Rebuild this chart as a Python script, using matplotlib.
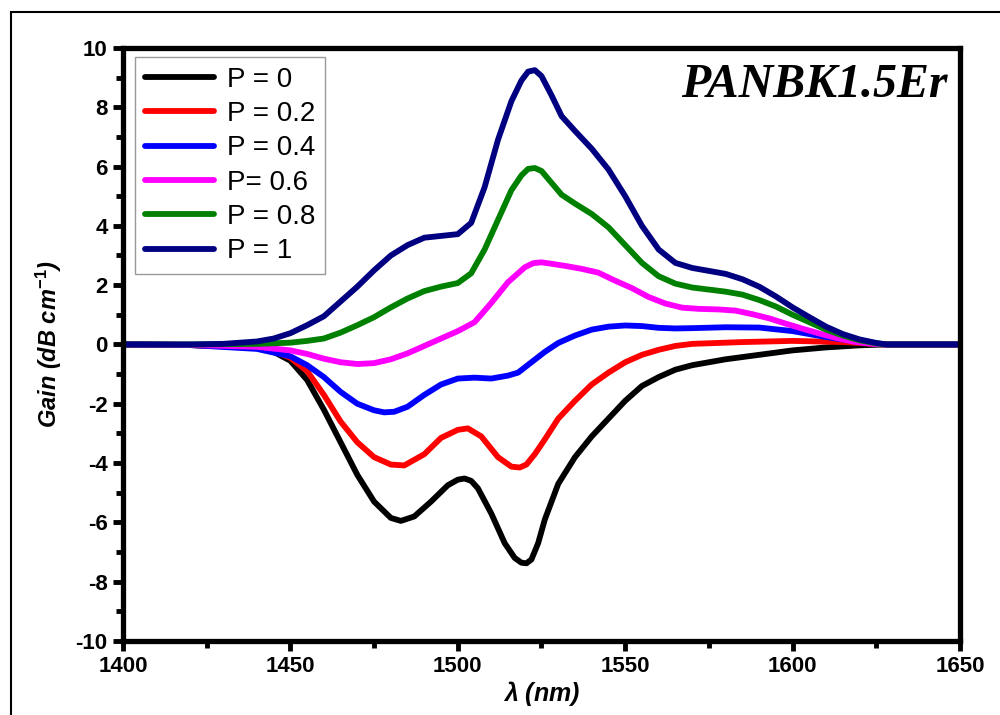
import matplotlib
matplotlib.use("Agg")
import matplotlib.pyplot as plt
from matplotlib.patches import Rectangle
from matplotlib.ticker import MultipleLocator

plt.rcParams['font.family'] = ['Liberation Sans', 'DejaVu Sans']
plt.rcParams['font.weight'] = 'bold'
plt.rcParams['axes.unicode_minus'] = False
plt.rcParams['mathtext.fontset'] = 'custom'
plt.rcParams['mathtext.it'] = 'Liberation Sans:italic:bold'
plt.rcParams['mathtext.rm'] = 'Liberation Sans:bold'

# gain spectra (wavelength in nm, gain in dB/cm)
wl_p0 = [1400, 1420, 1440, 1445, 1450, 1455, 1460, 1465, 1470, 1475, 1480, 1483, 1487, 1492, 1497,
         1500, 1502, 1504, 1506, 1510, 1514, 1517, 1519, 1520.5, 1522, 1524, 1526, 1530, 1535,
         1540, 1545, 1550, 1555, 1560, 1565, 1570, 1580, 1590, 1600, 1610, 1620, 1628, 1650]
gain_p0 = [0, -0.02, -0.1, -0.25, -0.55, -1.2, -2.2, -3.3, -4.4, -5.3, -5.85, -5.95, -5.8, -5.3, -4.75,
           -4.56, -4.52, -4.6, -4.85, -5.7, -6.7, -7.2, -7.36, -7.38, -7.25, -6.7, -5.9, -4.7, -3.8,
           -3.1, -2.5, -1.9, -1.4, -1.1, -0.85, -0.7, -0.5, -0.35, -0.2, -0.1, -0.03, 0, 0]

wl_p02 = [1400, 1420, 1440, 1445, 1450, 1455, 1460, 1465, 1470, 1475, 1480, 1484, 1490, 1495, 1500,
          1503, 1507, 1512, 1516, 1518.5, 1520.5, 1523, 1526, 1530, 1535, 1540, 1545, 1550, 1555,
          1560, 1565, 1570, 1585, 1600, 1615, 1628, 1650]
gain_p02 = [0, -0.02, -0.1, -0.22, -0.45, -0.9, -1.7, -2.6, -3.3, -3.8, -4.05, -4.08, -3.7, -3.15, -2.88,
            -2.83, -3.1, -3.8, -4.12, -4.15, -4.05, -3.7, -3.2, -2.5, -1.9, -1.35, -0.95, -0.6, -0.35,
            -0.18, -0.05, 0.02, 0.08, 0.12, 0.08, 0, 0]

wl_p04 = [1400, 1420, 1440, 1450, 1455, 1460, 1465, 1470, 1475, 1478, 1481, 1485, 1490, 1495, 1500,
          1505, 1510, 1515, 1518, 1522, 1526, 1530, 1535, 1540, 1545, 1550, 1555, 1560, 1565,
          1570, 1580, 1590, 1600, 1610, 1620, 1628, 1650]
gain_p04 = [0, -0.02, -0.15, -0.4, -0.7, -1.1, -1.6, -2.0, -2.22, -2.29, -2.27, -2.1, -1.7, -1.35, -1.15,
            -1.12, -1.15, -1.05, -0.95, -0.6, -0.25, 0.05, 0.3, 0.5, 0.6, 0.64, 0.62, 0.56, 0.54,
            0.55, 0.58, 0.57, 0.45, 0.25, 0.08, 0, 0]

wl_p06 = [1400, 1420, 1440, 1450, 1455, 1460, 1465, 1470, 1475, 1480, 1485, 1490, 1495, 1500,
          1505, 1510, 1515, 1520, 1522.5, 1525, 1528, 1532, 1537, 1542, 1547, 1552, 1557, 1562, 1567,
          1572, 1578, 1583, 1588, 1593, 1598, 1603, 1608, 1613, 1618, 1623, 1628, 1650]
gain_p06 = [0, -0.01, -0.08, -0.2, -0.32, -0.48, -0.6, -0.66, -0.63, -0.5, -0.3, -0.05, 0.2, 0.45,
            0.75, 1.4, 2.1, 2.6, 2.74, 2.77, 2.72, 2.65, 2.55, 2.42, 2.15, 1.9, 1.6, 1.38, 1.24,
            1.2, 1.18, 1.14, 1.02, 0.88, 0.7, 0.53, 0.37, 0.22, 0.1, 0.03, 0, 0]

wl_p08 = [1400, 1420, 1440, 1450, 1455, 1460, 1465, 1470, 1475, 1480, 1485, 1490, 1495, 1500,
          1504, 1508, 1512, 1516, 1519, 1521, 1523, 1525, 1528, 1531, 1535, 1540, 1545, 1550, 1555,
          1560, 1565, 1570, 1575, 1580, 1585, 1590, 1595, 1600, 1605, 1610, 1615, 1620, 1625,
          1628, 1650]
gain_p08 = [0, 0, 0.02, 0.06, 0.12, 0.2, 0.4, 0.65, 0.92, 1.25, 1.55, 1.8, 1.95, 2.07,
            2.4, 3.2, 4.2, 5.2, 5.7, 5.92, 5.95, 5.85, 5.45, 5.05, 4.75, 4.4, 3.95, 3.35, 2.75,
            2.3, 2.05, 1.92, 1.85, 1.78, 1.68, 1.5, 1.28, 1.0, 0.75, 0.5, 0.3, 0.14, 0.04,
            0, 0]

wl_p1 = [1400, 1420, 1430, 1440, 1445, 1450, 1455, 1460, 1465, 1470, 1475, 1480, 1485, 1490,
         1495, 1500, 1504, 1508, 1512, 1516, 1519, 1521, 1523, 1525, 1528, 1531, 1535, 1540, 1545,
         1550, 1555, 1560, 1565, 1570, 1575, 1580, 1585, 1590, 1595, 1600, 1605, 1610, 1615,
         1620, 1625, 1628, 1650]
gain_p1 = [0, 0, 0.02, 0.1, 0.2, 0.38, 0.65, 0.95, 1.45, 1.95, 2.5, 3.0, 3.35, 3.6,
           3.66, 3.72, 4.1, 5.3, 6.9, 8.2, 8.9, 9.2, 9.25, 9.05, 8.4, 7.7, 7.2, 6.6, 5.9,
           5.0, 4.0, 3.2, 2.75, 2.58, 2.48, 2.38, 2.2, 1.95, 1.62, 1.25, 0.92, 0.6, 0.35,
           0.17, 0.05, 0, 0]

labels = ['P = 0', 'P = 0.2', 'P = 0.4', 'P= 0.6', 'P = 0.8', 'P = 1']
colors = ['black', '#ff0000', '#0000ff', '#ff00ff', '#008000', '#000080']

series = [(wl_p0, gain_p0), (wl_p02, gain_p02), (wl_p04, gain_p04),
          (wl_p06, gain_p06), (wl_p08, gain_p08), (wl_p1, gain_p1)]

fig = plt.figure(figsize=(10, 7.15), dpi=100)
ax = fig.add_axes([0.123, 0.1035, 0.837, 0.8295])

for (x, y), lab, c in zip(series, labels, colors):
    ax.plot(x, y, color=c, lw=4.2, label=lab, solid_joinstyle='round', solid_capstyle='round')

ax.set_xlim(1400, 1650)
ax.set_ylim(-10, 10)
ax.xaxis.set_major_locator(MultipleLocator(50))
ax.xaxis.set_minor_locator(MultipleLocator(25))
ax.yaxis.set_major_locator(MultipleLocator(2))
ax.yaxis.set_minor_locator(MultipleLocator(1))
ax.tick_params(which='major', direction='out', length=7, width=3.5, labelsize=16, pad=4)
ax.tick_params(which='minor', direction='out', length=5, width=3.5)
for s in ax.spines.values():
    s.set_linewidth(3.8)

ax.set_xlabel(r'$\lambda$ (nm)', fontsize=18, fontweight='bold', fontstyle='italic', labelpad=1)
ax.set_ylabel(r'Gain (dB cm$^{-1}$)', fontsize=17, fontweight='bold', fontstyle='italic', labelpad=8)

ax.text(0.985, 0.975, 'PANBK1.5Er', transform=ax.transAxes, ha='right', va='top',
        family='Liberation Serif', fontsize=34.5, fontweight='bold', fontstyle='italic')

leg = ax.legend(loc='upper left', bbox_to_anchor=(0.135, 1 - 57 / 715), bbox_transform=fig.transFigure,
                borderaxespad=0, prop={'size': 20, 'weight': 'normal'}, handlelength=2.5,
                handletextpad=0.45, labelspacing=0.3, frameon=True, fancybox=False,
                edgecolor='#808080', borderpad=0.35)
leg.get_frame().set_linewidth(1.0)

# outer frame of the original image
fig.patches.append(Rectangle((0.011, -0.1), 1.2, 1.083, transform=fig.transFigure,
                             fill=False, edgecolor='black', lw=1.5))

fig.savefig('out.png', dpi=100)
